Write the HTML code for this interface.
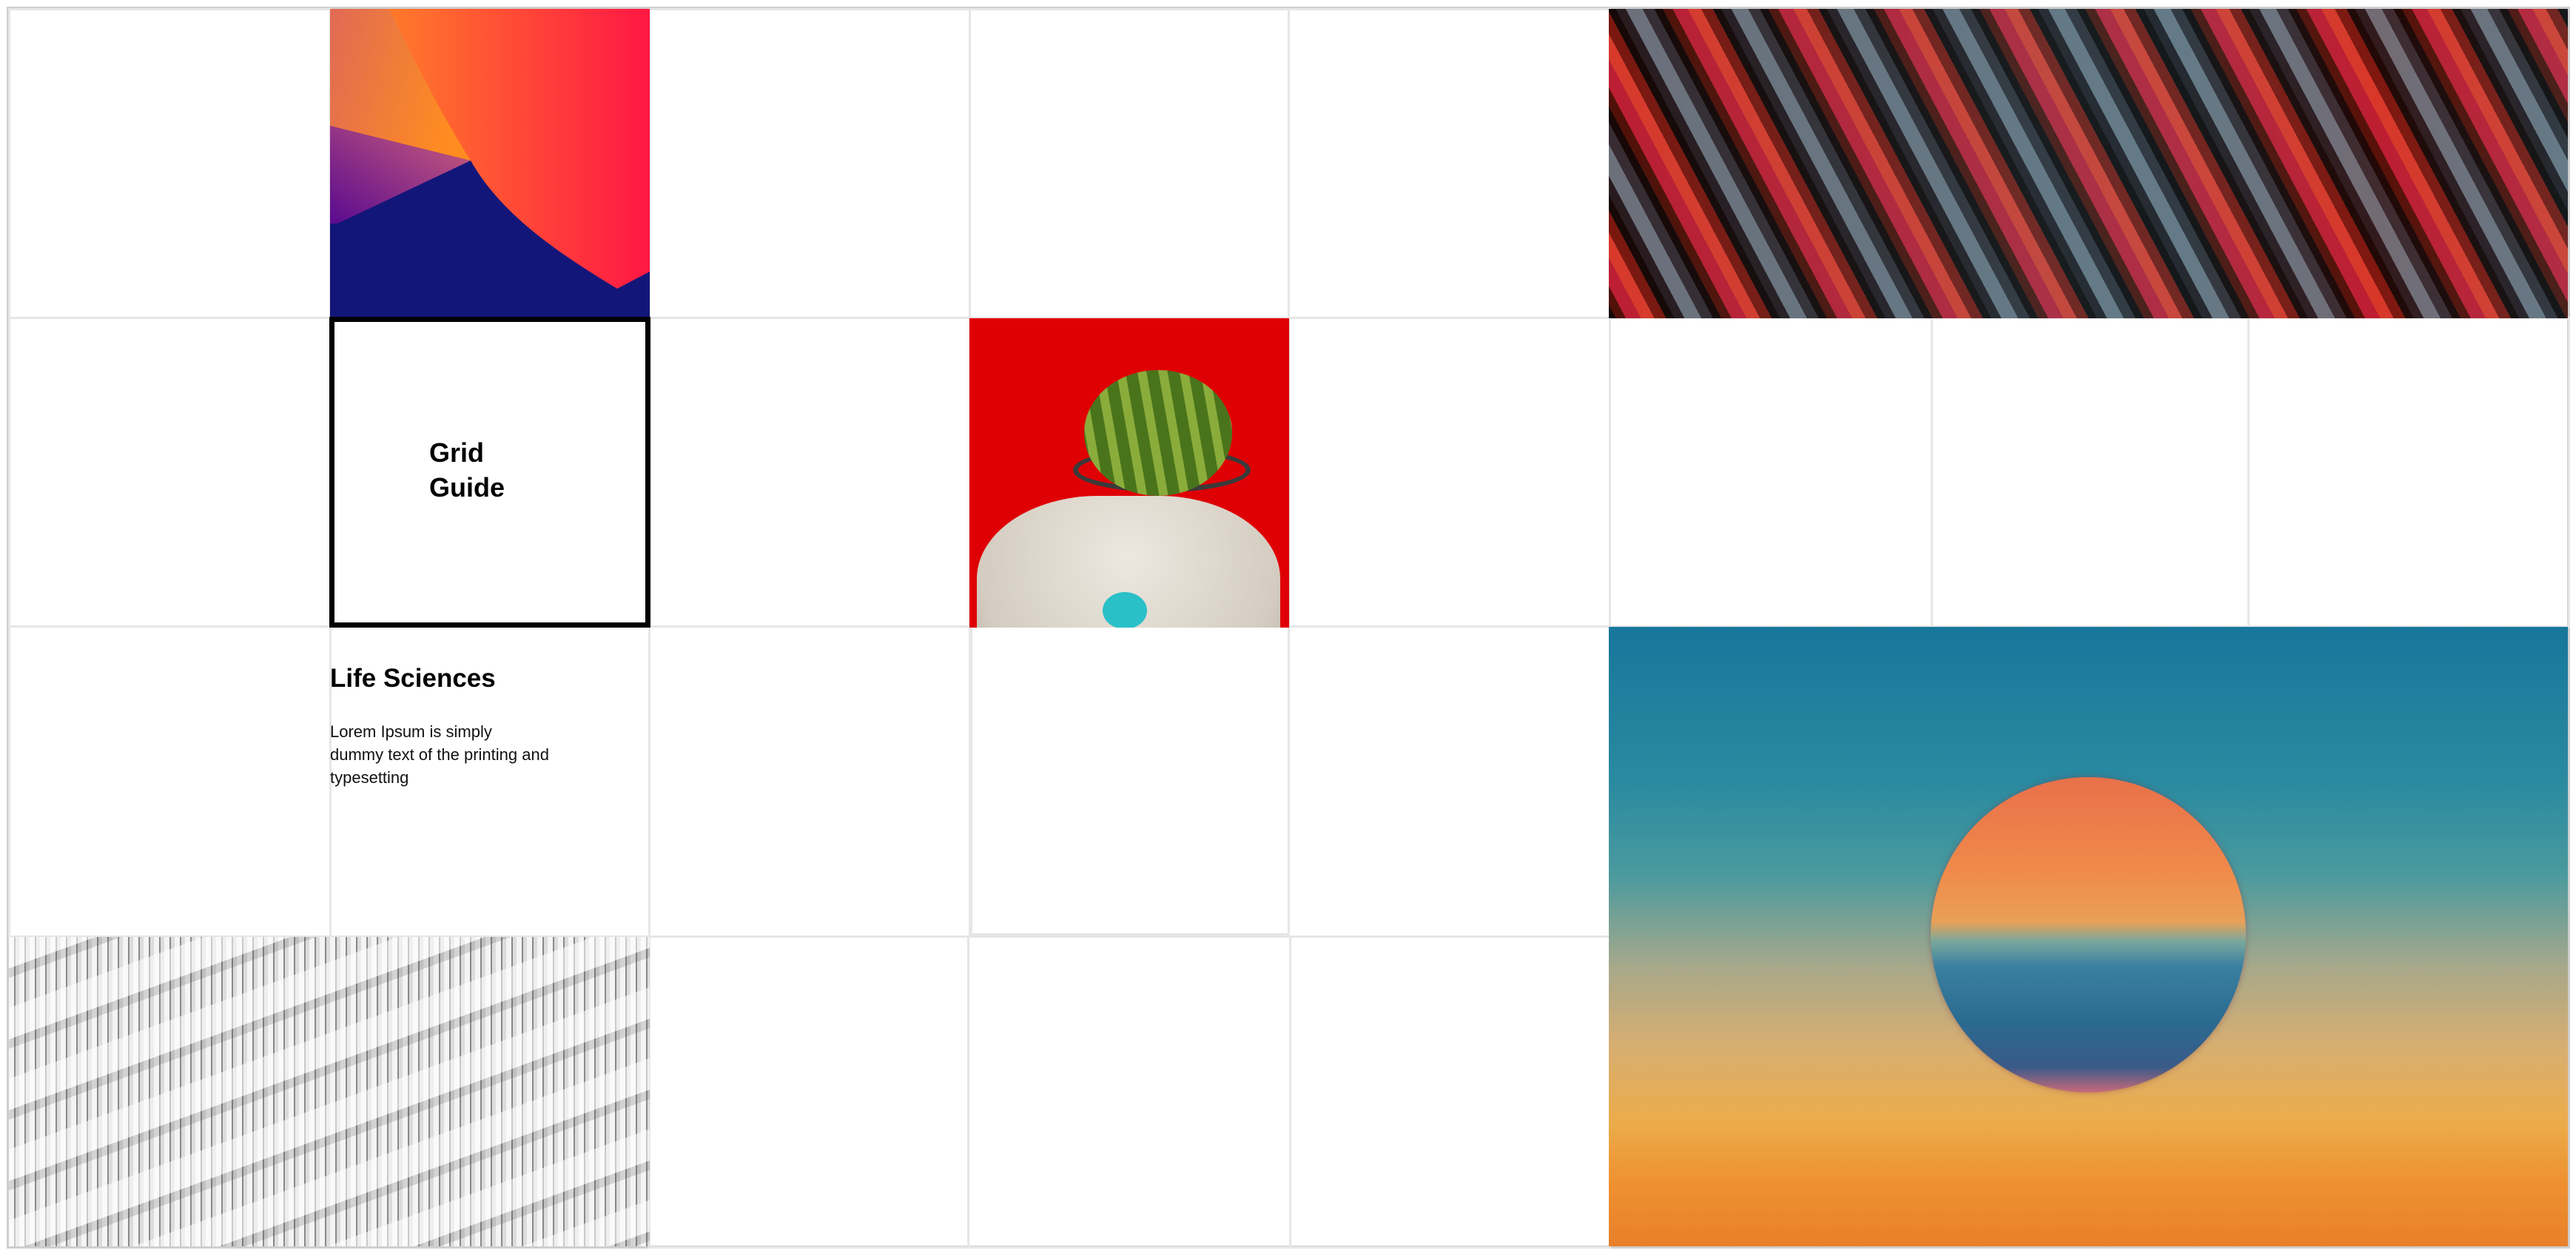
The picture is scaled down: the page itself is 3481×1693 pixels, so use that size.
<!DOCTYPE html>
<html><head><meta charset="utf-8"><style>
html,body{margin:0;padding:0;background:#fff;}
body{width:3481px;height:1693px;position:relative;overflow:hidden;font-family:"Liberation Sans","Noto Sans CJK KR",sans-serif;}
.a{position:absolute;box-sizing:border-box;}
.cell{border:3px solid #e6e6e6;}
</style></head><body>
<div class="a" style="left:9px;top:9px;width:3464px;height:1678px;border:4px solid #cfcfcf;"></div>

<div class="a cell" style="left:11px;top:11px;width:437px;height:420px"></div>
<div class="a cell" style="left:876px;top:11px;width:436px;height:420px"></div>
<div class="a cell" style="left:1309px;top:11px;width:434px;height:420px"></div>
<div class="a cell" style="left:1740px;top:11px;width:437px;height:420px"></div>
<div class="a cell" style="left:11px;top:428px;width:437px;height:420px"></div>
<div class="a cell" style="left:876px;top:428px;width:436px;height:420px"></div>
<div class="a cell" style="left:1740px;top:428px;width:437px;height:420px"></div>
<div class="a cell" style="left:2174px;top:428px;width:438px;height:420px"></div>
<div class="a cell" style="left:2609px;top:428px;width:431px;height:420px"></div>
<div class="a cell" style="left:3037px;top:428px;width:436px;height:420px"></div>
<div class="a cell" style="left:11px;top:845px;width:437px;height:422px"></div>
<div class="a cell" style="left:445px;top:845px;width:434px;height:422px"></div>
<div class="a cell" style="left:876px;top:845px;width:436px;height:422px"></div>
<div class="a cell" style="left:1311px;top:845px;width:432px;height:419px"></div>
<div class="a cell" style="left:1740px;top:845px;width:437px;height:422px"></div>
<div class="a cell" style="left:876px;top:1264px;width:434px;height:423px"></div>
<div class="a cell" style="left:1307px;top:1264px;width:438px;height:423px"></div>
<div class="a cell" style="left:1742px;top:1264px;width:435px;height:423px"></div>

<div class="a" style="left:446px;top:12px;width:432px;height:418px;overflow:hidden;background:#131679;">
  <svg width="432" height="418" viewBox="0 0 432 418">
    <defs>
      <linearGradient id="g1" x1="0" y1="0" x2="1" y2="0"><stop offset="0" stop-color="#ff7a2a"/><stop offset="1" stop-color="#ff1744"/></linearGradient>
      <linearGradient id="g2" x1="0" y1="1" x2="1" y2="0"><stop offset="0" stop-color="#5a0a90"/><stop offset="1" stop-color="#d0607a"/></linearGradient>
      <linearGradient id="g3" x1="0" y1="0" x2="1" y2="0.3"><stop offset="0" stop-color="#e06a55"/><stop offset="1" stop-color="#ff8c20"/></linearGradient>
    </defs>
    <polygon points="0,158 190,205 10,290 0,290" fill="url(#g2)"/>
    <polygon points="0,0 80,0 190,205 0,158" fill="url(#g3)"/>
    <path d="M80,0 L432,0 L432,355 L388,378 C300,325 230,275 190,205 C140,125 110,60 80,0 Z" fill="url(#g1)"/>
  </svg>
</div>

<div class="a" style="left:2174px;top:12px;width:1296px;height:418px;overflow:hidden;background:#3a0d08;">
  <div class="a" style="left:-400px;top:-500px;width:2200px;height:1400px;transform:rotate(-28deg);background:repeating-linear-gradient(90deg,#050505 0 10px,#4a1008 10px 22px,#c8203a 22px 40px,#e84030 40px 56px,#7a1810 56px 70px,#050505 70px 80px,#1a1c22 80px 92px,#6a808e 92px 112px,#2a3038 112px 126px),#000;"></div>
  <div class="a" style="left:0;top:0;width:1296px;height:418px;background:linear-gradient(90deg,rgba(120,20,10,0.15) 0%,rgba(80,100,110,0.25) 45%,rgba(80,100,110,0.2) 60%,rgba(150,20,10,0.2) 80%,rgba(80,100,110,0.2) 100%);"></div>
</div>

<div class="a" style="left:445px;top:428px;width:434px;height:420px;border:7px solid #000;background:#fff;"></div>
<div class="a" style="left:580px;top:588px;font-size:36px;font-weight:bold;line-height:47px;color:#000;">Grid<br>Guide</div>

<div class="a" style="left:1310px;top:430px;width:432px;height:418px;overflow:hidden;background:#df0005;">
  <div class="a" style="left:10px;top:240px;width:410px;height:280px;border-radius:40% 40% 0 0;background:radial-gradient(ellipse at 50% 30%,#ece8e0,#d4ccc0 70%,#b0a89c);"></div>
  <div class="a" style="left:140px;top:175px;width:240px;height:60px;border-radius:50%;border:7px solid #3a3a3a;"></div>
  <div class="a" style="left:155px;top:70px;width:200px;height:170px;border-radius:50%;background:repeating-linear-gradient(80deg,#4a741c 0 16px,#8aac3a 16px 28px);"></div>
  <div class="a" style="left:180px;top:370px;width:60px;height:50px;border-radius:50%;background:#2ac0c8;"></div>
</div>

<div class="a" style="left:446px;top:897px;font-size:35px;font-weight:bold;color:#000;">Life Sciences</div>
<div class="a" style="left:446px;top:973px;font-size:22px;line-height:31px;color:#111;">Lorem Ipsum is simply<br>dummy text of the printing and<br>typesetting</div>

<div class="a" style="left:12px;top:1266px;width:866px;height:418px;overflow:hidden;background:#e4e4e4;">
  <div class="a" style="left:0;top:0;width:866px;height:418px;background:repeating-linear-gradient(90deg,#f4f4f4 0 7px,#8a8a8a 7px 9px,#dcdcdc 9px 14px);"></div>
  <div class="a" style="left:0;top:0;width:866px;height:418px;background:repeating-linear-gradient(160deg,rgba(255,255,255,0.55) 0 40px,rgba(60,60,60,0.18) 40px 52px,rgba(255,255,255,0) 52px 90px);"></div>
</div>

<div class="a" style="left:2174px;top:847px;width:1296px;height:837px;overflow:hidden;background:linear-gradient(180deg,#17779c 0%,#2a8aa0 25%,#4a9a9e 40%,#a8a88a 55%,#d8ae70 68%,#ecac4a 80%,#ee9030 90%,#e8802a 100%);">
  <div class="a" style="left:435px;top:203px;width:426px;height:426px;border-radius:50%;background:linear-gradient(180deg,#e8704a 0%,#f08a4a 30%,#e8a058 46%,#7aa89c 52%,#3a80a0 60%,#2a6a90 78%,#3a5a88 92%,#c86a7a 100%);box-shadow:0 0 8px rgba(120,60,80,0.5);"></div>
</div>
</body></html>
